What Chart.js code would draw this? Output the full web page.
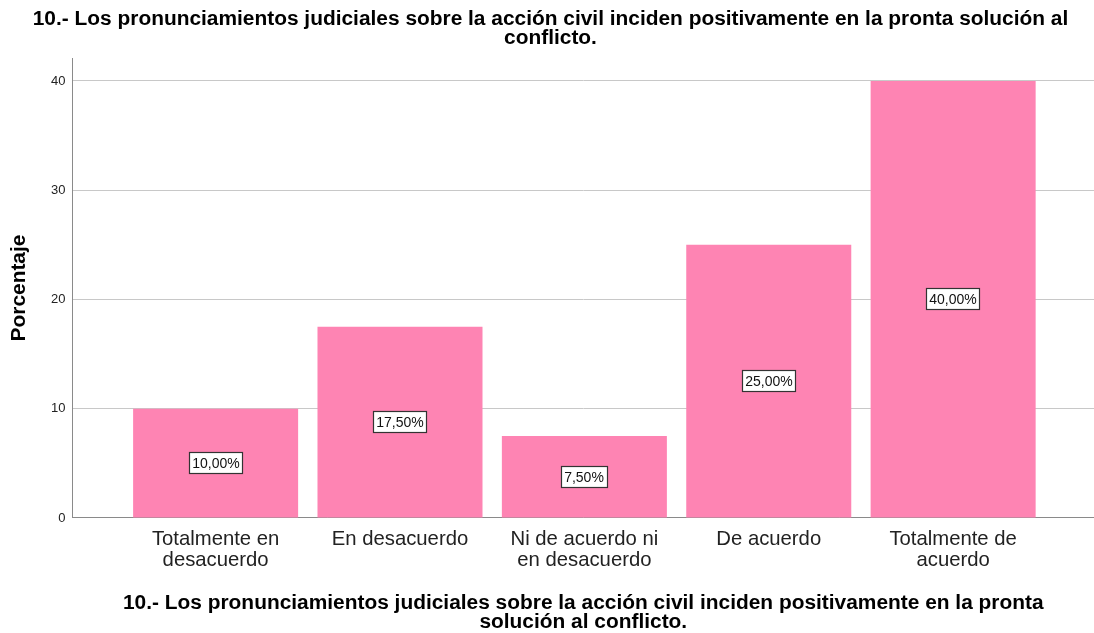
<!DOCTYPE html>
<html>
<head>
<meta charset="utf-8">
<script src="https://cdn.jsdelivr.net/npm/chart.js@4"></script>
<style>
  html, body { margin: 0; padding: 0; background: #fff; }
  #wrap { width: 1094px; height: 633px; }
</style>
</head>
<body>
<div id="wrap"><canvas id="chart" width="1094" height="633"></canvas></div>
<script>
const TITLE = ['10.- Los pronunciamientos judiciales sobre la acción civil inciden positivamente en la pronta solución al', 'conflicto.'];
const X_TITLE = ['10.- Los pronunciamientos judiciales sobre la acción civil inciden positivamente en la pronta', 'solución al conflicto.'];
const CATEGORIES = [
  ['Totalmente en', 'desacuerdo'],
  ['En desacuerdo'],
  ['Ni de acuerdo ni', 'en desacuerdo'],
  ['De acuerdo'],
  ['Totalmente de', 'acuerdo']
];
const PERCENTS = [10, 17.5, 7.5, 25, 40];
const Y_TICKS = [0, 10, 20, 30, 40];

const FONT = "'Liberation Sans', Arial, sans-serif";

const fmtPct = v => v.toFixed(2).replace('.', ',') + '%';

// boxed value labels in the middle of each bar
const boxLabels = {
  id: 'boxLabels',
  afterDatasetsDraw(chart) {
    const ctx = chart.ctx;
    const meta = chart.getDatasetMeta(0);
    ctx.save();
    ctx.font = '14px ' + FONT;
    ctx.textAlign = 'center';
    ctx.textBaseline = 'middle';
    meta.data.forEach((bar, i) => {
      const text = fmtPct(PERCENTS[i]);
      const cx = Math.round(bar.x);
      const cy = Math.round((bar.y + bar.base) / 2);
      const w = Math.round(ctx.measureText(text).width) + 6;
      const h = 21;
      const x0 = cx - Math.round(w / 2) + 0.5;
      const y0 = cy - Math.round(h / 2) + 0.5;
      ctx.fillStyle = '#fff';
      ctx.fillRect(x0, y0, w, h);
      ctx.strokeStyle = '#333';
      ctx.lineWidth = 1.2;
      ctx.strokeRect(x0, y0, w, h);
      ctx.fillStyle = '#111';
      ctx.fillText(text, cx, cy + 1);
    });
    ctx.restore();
  }
};

const data = {
  datasets: [{
    label: 'Porcentaje',
    data: PERCENTS.map((v, i) => ({ x: i, y: v })),
    backgroundColor: '#fe84b3',
    borderWidth: 0,
    categoryPercentage: 1,
    barPercentage: 0.895
  }]
};

const config = {
  type: 'bar',
  data: data,
  options: {
    responsive: false,
    animation: false,
    layout: { padding: { left: 7, right: 0, top: 0, bottom: 2 } },
    plugins: {
      legend: { display: false },
      tooltip: { enabled: false },
      title: {
        display: true,
        text: TITLE,
        color: '#000',
        font: { family: FONT, size: 20.9, weight: 'bold', lineHeight: 0.91 },
        padding: { top: 10, bottom: 10 }
      }
    },
    scales: {
      x: {
        type: 'linear',
        offset: false,
        min: -0.776,
        max: 4.764,
        grid: { display: false, drawTicks: false },
        border: { display: true, color: '#8a8a8a' },
        afterBuildTicks: scale => {
          scale.ticks = CATEGORIES.map((c, i) => ({ value: i }));
        },
        ticks: {
          autoSkip: false,
          maxRotation: 0,
          padding: 11,
          color: '#222',
          font: { family: FONT, size: 20.3, lineHeight: 1.04 },
          callback: value => CATEGORIES[value]
        },
        title: {
          display: true,
          text: X_TITLE,
          color: '#000',
          font: { family: FONT, size: 20.9, weight: 'bold', lineHeight: 0.88 },
          padding: { top: 12, bottom: 0 }
        }
      },
      y: {
        min: 0,
        max: 42.1,
        grid: { color: '#c8c8c8', drawTicks: false },
        border: { display: true, color: '#8a8a8a' },
        afterBuildTicks: scale => {
          scale.ticks = Y_TICKS.map(v => ({ value: v }));
        },
        ticks: {
          padding: 7,
          color: '#222',
          font: { family: FONT, size: 13 }
        },
        title: {
          display: true,
          text: 'Porcentaje',
          color: '#000',
          font: { family: FONT, size: 20.9, weight: 'bold' },
          padding: { top: 0, bottom: 12 }
        }
      }
    }
  },
  plugins: [boxLabels]
};

const chart = new Chart(document.getElementById('chart'), config);
</script>
</body>
</html>
